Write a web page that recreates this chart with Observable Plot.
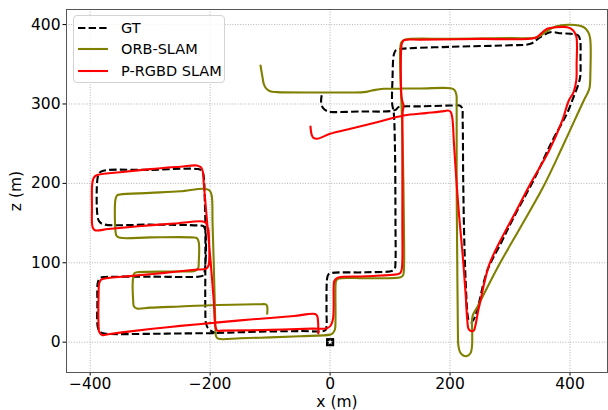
<!DOCTYPE html>
<html><head><meta charset="utf-8">
<script src="https://cdn.jsdelivr.net/npm/d3@7"></script>
<script src="https://cdn.jsdelivr.net/npm/@observablehq/plot@0.6"></script>
<style>
body{margin:0;background:#fff;font-family:"DejaVu Sans",sans-serif;}
#wrap{position:relative;width:608px;height:410px;}
#legend{position:absolute;left:73px;top:15px;width:152px;height:68px;border:1px solid #d3d3d3;border-radius:4px;background:rgba(255,255,255,0.85);box-sizing:border-box;}
.item{position:absolute;left:4px;height:20px;display:flex;align-items:center;font-size:14.5px;color:#000;white-space:nowrap;}
.item svg{margin-right:13px;}
</style></head>
<body><div id="wrap"><div id="chart"></div><div id="legend"></div></div>
<script>
const seriesNames = ["GT", "ORB-SLAM", "P-RGBD SLAM"];
const seriesColors = ["#000000", "#808000", "#ff0000"];
const seriesDash = ["7.4,3.2", null, null];
const xTicks = [-400, -200, 0, 200, 400];
const yTicks = [0, 100, 200, 300, 400];
const startPoint = [[0, 0]];

const gt = [[-14,311],[-15,303],[-12,295],[-5,291],[1,290],[50,290.5],[100,291],[110,293],[114,296],[150,297],[200,298],[216,298],[220,295],[221,280],[222,200],[224,120],[227,60],[229,36],[231,28],[235,25],[239,28],[245,40],[262,90],[285,125],[306,157],[342,208],[370,253],[395,288],[406,309],[414,325],[417,334],[417.5,360],[417,380],[414,386],[401,388.4],[385,389],[367,390.4],[350,384],[334,375.8],[300,374],[200,372],[120,369.5],[110,368],[106.5,363],[104,330],[103.5,300],[106,290],[108,250],[109,150],[109,100],[108,93],[104,90],[60,88],[2,87],[-3,85],[-5,80],[-6,40],[-6,20],[-8,15],[-50,14],[-100,13.5],[-150,12.5],[-190,11.5],[-250,11],[-300,10.5],[-370,10.5],[-382,12],[-387,18],[-388,50],[-387,76],[-383,81],[-375,82],[-300,82.5],[-220,82.5],[-212,84],[-209,90],[-208,140],[-211,146],[-220,147],[-300,148],[-378,148.5],[-385,152],[-388,160],[-388,205],[-385,213],[-378,216],[-300,217],[-220,218],[-214,216],[-211,210],[-209,180],[-208,150],[-208,100],[-208,40],[-207,24],[-203,17],[-192,11.5]];

const orb = [[-104.9,35.8],[-104.9,45],[-107,47.5],[-115,47.8],[-200,46.5],[-250,45],[-300,43.5],[-322,42.4],[-327,45],[-328.3,52],[-328.3,82],[-326,87],[-320,88.2],[-260,89],[-225,90],[-220,93],[-219,100],[-219,126],[-222,131],[-230,132],[-300,132],[-350,131.5],[-356,134],[-357.8,140],[-357.8,180],[-355,185],[-350,186],[-300,188],[-250,190],[-210,193.2],[-201,191],[-197.5,185],[-196,150],[-194,100],[-192,40],[-191,14.7],[-190,7],[-186,4.3],[-150,5],[-100,6],[-50,7.5],[0,9.5],[4,11],[8,16],[9,30],[9,70],[10,77],[14,80],[60,80.5],[117.4,81.9],[121.5,84],[123,90],[123,150],[121,250],[119,300],[117,340],[117,370],[119,378],[124,381],[200,382],[300,383],[345.3,384],[360,391],[375.8,397.6],[400.9,399.7],[423,396.7],[430,391],[433.5,383],[434,340],[432.5,320],[428.7,312.8],[423,304.4],[389.7,249.9],[355,195],[317.5,144.8],[280,95],[245.3,44],[237.5,33],[237,10],[236.5,-6],[234,-14],[228,-17.5],[222,-16.8],[217,-13],[214,-5],[213,20],[212,100],[211,200],[211,300],[210.5,312],[207,318],[200.8,319.9],[150,319.5],[89.5,319.1],[70,317],[56.2,314.9],[0,314.5],[-88.2,314.9],[-100,316],[-107,320],[-110.6,325.4],[-113,335],[-116,348.5]];

const rgbd = [[-19.7,11],[-20,25],[-21.5,33],[-25,35.5],[-60,33],[-100,30.5],[-150,27.5],[-200,24],[-250,20.5],[-300,16.5],[-340,13],[-370,10],[-380,9],[-385,13],[-386,20],[-386,60],[-385,74],[-382,78.5],[-377,80],[-330,83.5],[-280,87],[-230,91],[-206,93],[-202.5,97],[-202,130],[-203,142],[-207,150],[-212,152],[-260,149.5],[-320,146],[-370,142.5],[-392,141],[-396,145],[-397,170],[-396.5,200],[-394,207],[-390,210],[-350,214],[-300,218],[-250,221],[-222,222.5],[-215,220],[-212,214],[-210.6,199.5],[-205,151],[-199.4,103],[-194,52.5],[-191,19],[-188,14.5],[-180,14.5],[-100,15.5],[-30,17],[-5,17.6],[1,21],[5,30],[6,70],[7,77],[12,81],[60,83],[112,85.5],[117,87],[119.5,92],[120.5,150],[120.5,250],[121,290],[122.5,298],[121,302],[119,310],[118.6,370],[120,377],[124,380.5],[150,381],[250,382],[342.5,383.4],[352,389],[362,394.7],[375,396.5],[395.4,396.7],[405,393],[410.5,385],[411,350],[410.5,330],[406,315],[398,304.4],[387,279],[365,241],[334,199.5],[310,165],[284,128],[265,97],[250.8,52.5],[249.5,48],[247,40],[242,20],[239.6,14.7],[235,14],[231,16.5],[228.5,30],[226,60],[221,110],[215,160],[210,210],[206.5,250],[203.6,283.4],[201,290],[197,291.8],[190,291],[160,288.5],[123,285.5],[78,277],[34,268.8],[0,262.5],[-21.6,256.2],[-28,257.5],[-31,262],[-32.7,271.7]];

const series = [gt, orb, rgbd];
const fmt = d => d < 0 ? "\u2212" + Math.abs(d) : String(d);

const lineMarks = series.map((data, i) => Plot.line(data, {
  x: d => d[0], y: d => d[1],
  stroke: seriesColors[i], strokeWidth: 2.1,
  strokeDasharray: seriesDash[i] || undefined,
  curve: "catmull-rom", strokeLinejoin: "round", strokeLinecap: i === 0 ? "butt" : "round"
}));

const chart = Plot.plot({
  width: 608, height: 410,
  marginLeft: 66, marginRight: 1, marginTop: 9, marginBottom: 38,
  style: {fontFamily: "DejaVu Sans", fontSize: "15.5px", background: "white", color: "black", overflow: "visible"},
  x: {domain: [-439.5, 462.5]},
  y: {domain: [-38.2, 419]},
  marks: [
    Plot.gridX(xTicks, {stroke: "#a0a0a0", strokeOpacity: 1, strokeWidth: 0.8, strokeDasharray: "1,1.6"}),
    Plot.gridY(yTicks, {stroke: "#a0a0a0", strokeOpacity: 1, strokeWidth: 0.8, strokeDasharray: "1,1.6"}),
    ...lineMarks,
    Plot.dot(startPoint, {x: d => d[0], y: d => d[1], symbol: "square", fill: "black", r: 4.6}),
    Plot.dot(startPoint, {x: d => d[0], y: d => d[1], symbol: "star", fill: "white", r: 1.8}),
    Plot.axisX(xTicks, {tickSize: 3.5, tickPadding: 2, tickFormat: fmt, label: "x (m)", labelAnchor: "center", labelArrow: "none", labelOffset: 34}),
    Plot.axisY(yTicks, {tickSize: 3.5, tickPadding: 2.5, tickFormat: fmt, label: "z (m)", labelAnchor: "center", labelArrow: "none", labelOffset: 57}),
    Plot.frame({stroke: "#555", strokeWidth: 1})
  ]
});
document.getElementById("chart").appendChild(chart);

const legend = document.getElementById("legend");
const rowsY = [1.5, 23, 44.5];
seriesNames.forEach((name, i) => {
  const row = document.createElement("div");
  row.className = "item";
  row.style.top = rowsY[i] + "px";
  const dash = seriesDash[i] ? `stroke-dasharray="${seriesDash[i]}"` : "";
  row.innerHTML = `<svg width="30" height="10"><line x1="0" y1="5" x2="30" y2="5" stroke="${seriesColors[i]}" stroke-width="2.1" ${dash}/></svg><span>${name}</span>`;
  legend.appendChild(row);
});
</script></body></html>
